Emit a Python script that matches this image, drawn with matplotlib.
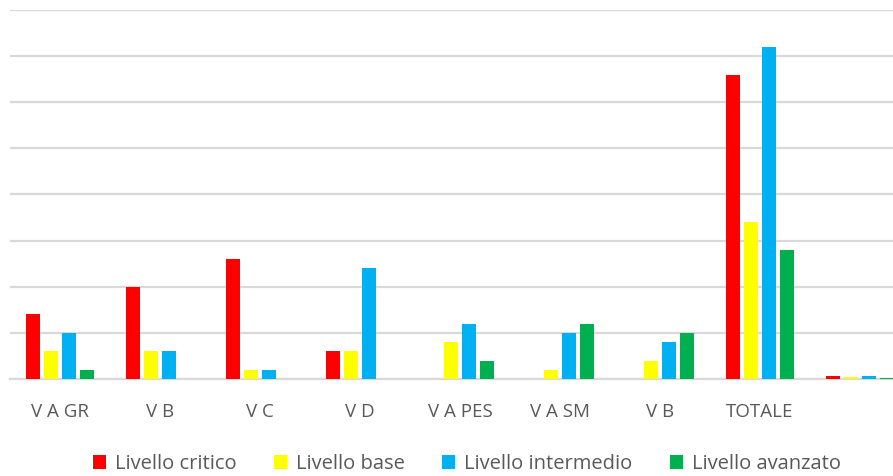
import numpy as np
import matplotlib
matplotlib.use("Agg")
import matplotlib.pyplot as plt

plt.rcParams['font.family'] = ['Open Sans', 'DejaVu Sans']

categories = ["V A GR", "V B", "V C", "V D", "V A PES", "V A SM", "V B", "TOTALE", ""]
critico = [7, 10, 13, 3, 0, 0, 0, 33, 0.33]
base = [3, 3, 1, 3, 4, 1, 2, 17, 0.17]
intermedio = [5, 3, 1, 12, 6, 5, 4, 36, 0.36]
avanzato = [1, 0, 0, 0, 2, 6, 5, 14, 0.14]

series = [
    ("Livello critico", critico, "#FF0000"),
    ("Livello base", base, "#FFFF00"),
    ("Livello intermedio", intermedio, "#00B0F0"),
    ("Livello avanzato", avanzato, "#00B050"),
]

fig = plt.figure(figsize=(8.93, 4.76), dpi=100)
ax = fig.add_axes([10 / 893, 97 / 476, 883 / 893, 369 / 476])

x = np.arange(len(categories))
offsets = [-0.27, -0.09, 0.09, 0.27]
for (name, vals, col), off in zip(series, offsets):
    ax.bar(x + off, vals, width=0.145, color=col, label=name, zorder=3)

ax.set_xlim(-0.5, 8.33)
ax.set_ylim(0, 40)
ax.set_yticks(np.arange(0, 41, 5))
ax.yaxis.grid(True, color="#d9d9d9", linewidth=1.6, zorder=0)
ax.tick_params(axis="y", left=False, labelleft=False)
ax.set_xticks(x)
ax.set_xticklabels(categories, fontsize=13.5, color="#595959")
ax.tick_params(axis="x", length=0, pad=17)
for s in ["top", "right", "left"]:
    ax.spines[s].set_visible(False)
ax.spines["bottom"].set_color("#d9d9d9")
ax.spines["bottom"].set_linewidth(1.6)

fig.legend(loc="center", bbox_to_anchor=(0.523, 0.025), ncol=4, frameon=False,
           fontsize=14.5, labelcolor="#595959", handlelength=0.65, handleheight=0.7,
           handletextpad=0.45, columnspacing=1.85)

fig.savefig("out.png", dpi=100)
